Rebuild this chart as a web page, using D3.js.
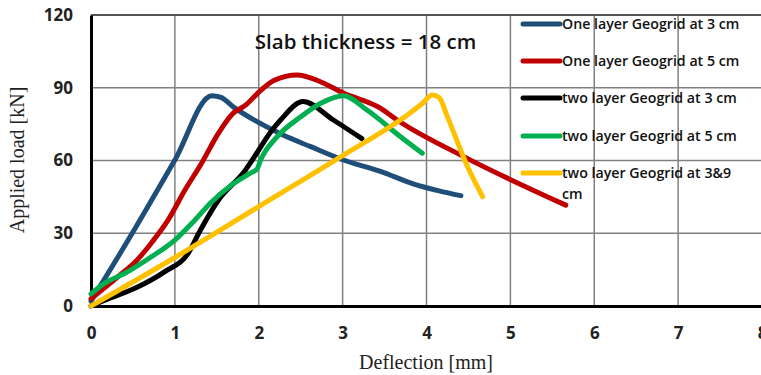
<!DOCTYPE html>
<html><head><meta charset="utf-8">
<script src="https://cdn.jsdelivr.net/npm/d3@7"></script>
<style>body{margin:0;background:#fff;}svg{display:block;}</style>
</head><body>
<svg id="c" width="761" height="375"></svg>
<script>
const xTicks = [0,1,2,3,4,5,6,7,8];
const yTicks = [0,30,60,90,120];
const seriesNames = ["One layer Geogrid at 3 cm","One layer Geogrid at 5 cm","two layer Geogrid at 3 cm","two layer Geogrid at 5 cm","two layer Geogrid at 3&9 cm"];
const seriesColors = ["#1f4e79","#c00000","#000000","#00b050","#ffc000"];
const blue = [[0,2],[0.5,30.5],[1,60.2],[1.44,86.7],[1.55,86],[1.7,82],[1.98,76],[2.29,70.5],[2.62,65.7],[3.01,60.2],[3.45,55.5],[3.85,50.3],[4.15,47.5],[4.41,45.5]];
const red = [[0,3],[0.32,12],[0.55,19],[0.72,26],[0.92,35.5],[1.12,47.8],[1.32,59],[1.52,71.3],[1.68,79],[1.85,83],[1.98,87.5],[2.18,93],[2.46,95.3],[2.7,93],[3.01,87.8],[3.45,81.6],[3.65,76.7],[4.45,61.5],[5.66,41.6]];
const black = [[0,0],[0.17,2.5],[0.53,7.4],[0.88,14.2],[1.16,21.8],[1.3,31],[1.52,43.7],[1.84,56],[1.9,59],[2.16,72.6],[2.26,76.7],[2.53,84.3],[2.89,76.7],[3.23,69]];
const green = [[0,5],[0.17,9.5],[0.41,13.6],[0.72,20.3],[1.0,27.2],[1.24,35.5],[1.44,43],[1.68,50],[1.9,54.8],[1.98,56.5],[2.02,60],[2.22,69.8],[2.5,78],[2.74,83.6],[3.01,86.7],[3.29,80.8],[3.69,69.8],[3.95,63]];
const yellow = [[0,0],[1,20],[2,41],[3,62],[3.8,79.5],[3.95,83.5],[4.07,87],[4.15,86],[4.25,78],[4.49,57.4],[4.67,45]];
const allSeries = [blue,red,black,green,yellow];

const svg = d3.select("#c");
const L=91, T=15, R=762, B=306;
const x = d3.scaleLinear().domain([0,8]).range([L,R]);
const y = d3.scaleLinear().domain([0,120]).range([B,T]);

// grid
svg.append("g").selectAll("line.v").data(xTicks.slice(1)).join("line")
  .attr("x1",d=>x(d)).attr("x2",d=>x(d)).attr("y1",T).attr("y2",B)
  .attr("stroke","#808080").attr("stroke-width",1.5);
svg.append("g").selectAll("line.h").data(yTicks.slice(1)).join("line")
  .attr("x1",L).attr("x2",R).attr("y1",d=>y(d)).attr("y2",d=>y(d))
  .attr("stroke","#808080").attr("stroke-width",1.5);
svg.append("line").attr("x1",L).attr("x2",R).attr("y1",T).attr("y2",T).attr("stroke","#555").attr("stroke-width",2);

// axes
const xAxis = d3.axisBottom(x).tickValues(xTicks).tickSize(0).tickPadding(21).tickFormat(d3.format("d"));
const yAxis = d3.axisLeft(y).tickValues(yTicks).tickSize(0).tickPadding(18).tickFormat(d3.format("d"));
const gx = svg.append("g").attr("transform",`translate(0,${B})`).call(xAxis);
const gy = svg.append("g").attr("transform",`translate(${L},0)`).call(yAxis);
[gx,gy].forEach(g=>{
  g.select(".domain").attr("stroke","#000").attr("stroke-width",3);
  g.selectAll("text").attr("font-family","'Open Sans', sans-serif").attr("font-weight","700").attr("font-size","17px").attr("fill","#222");
});
gx.selectAll("text").attr("dy","0.71em");

// lines
const line = d3.line().x(d=>x(d[0])).y(d=>y(d[1])).curve(d3.curveMonotoneX);
svg.append("g").selectAll("path").data(allSeries).join("path")
  .attr("d",line).attr("fill","none")
  .attr("stroke",(d,i)=>seriesColors[i]).attr("stroke-width",5)
  .attr("stroke-linecap","round").attr("stroke-linejoin","round");

// title
svg.append("text").attr("x",365.5).attr("y",49).attr("text-anchor","middle")
  .attr("font-family","'Open Sans', sans-serif").attr("font-weight","600").attr("font-size","20.5px").attr("fill","#111")
  .text("Slab thickness = 18 cm");

// axis titles
svg.append("text").attr("x",426).attr("y",369).attr("text-anchor","middle")
  .attr("font-family","'Liberation Serif', serif").attr("font-size","20px").attr("fill","#222")
  .text("Deflection [mm]");
svg.append("text").attr("transform","translate(24,160) rotate(-90)").attr("text-anchor","middle")
  .attr("font-family","'Liberation Serif', serif").attr("font-size","20px").attr("fill","#222")
  .text("Applied load [kN]");

// legend
const legY = [24,61,98,136,173];
const lg = svg.append("g");
seriesNames.forEach((n,i)=>{
  lg.append("line").attr("x1",523).attr("x2",560).attr("y1",legY[i]).attr("y2",legY[i])
    .attr("stroke",seriesColors[i]).attr("stroke-width",5).attr("stroke-linecap","round");
  const t = lg.append("text").attr("x",562).attr("y",legY[i]+5)
    .attr("font-family","'Open Sans', sans-serif").attr("font-weight","600").attr("font-size","14.2px").attr("fill","#111");
  if(i===4){
    t.append("tspan").attr("x",562).text("two layer Geogrid at 3&9");
    t.append("tspan").attr("x",562).attr("dy",21).text("cm");
  } else t.text(n);
});
</script>
</body></html>
